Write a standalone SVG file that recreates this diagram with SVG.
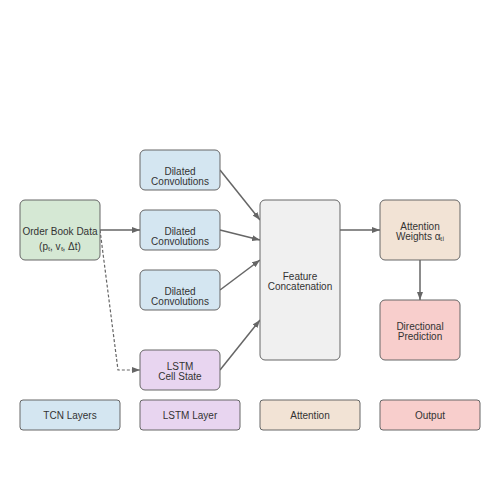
<svg xmlns="http://www.w3.org/2000/svg" width="500" height="500" viewBox="0 0 500 500">
<style>
.n{stroke:#666;stroke-width:1;}
.t{font-family:"Liberation Sans",Arial,sans-serif;font-size:10px;fill:#333;text-anchor:middle;}
.c{stroke:#666;stroke-width:1.5;fill:none;}
.d{stroke:#666;stroke-width:1.2;fill:none;stroke-dasharray:3,2;}
</style>
<defs>
<marker id="a" markerWidth="8" markerHeight="6" refX="8" refY="3" orient="auto" markerUnits="userSpaceOnUse">
<path d="M0,0 L8,3 L0,6 Z" fill="#666"/>
</marker>
</defs>
<rect width="500" height="500" fill="#fff"/>
<g id="connectors">
<line class="c" x1="100" y1="230" x2="140" y2="230" marker-end="url(#a)"/>
<polyline class="d" points="100,230 118,370 140,370" marker-end="url(#a)"/>
<line class="c" x1="220" y1="170" x2="260" y2="220" marker-end="url(#a)"/>
<line class="c" x1="220" y1="230" x2="260" y2="240" marker-end="url(#a)"/>
<line class="c" x1="220" y1="290" x2="260" y2="260" marker-end="url(#a)"/>
<line class="c" x1="220" y1="370" x2="260" y2="320" marker-end="url(#a)"/>
<line class="c" x1="340" y1="230" x2="380" y2="230" marker-end="url(#a)"/>
<line class="c" x1="420" y1="260" x2="420" y2="300" marker-end="url(#a)"/>
</g>
<g id="orderbook">
<rect class="n" x="20" y="200" width="80" height="60" rx="5" fill="#d5e8d4"/>
<text class="t" x="60" y="235">Order Book Data</text>
<text class="t" x="60" y="250">(pₜ, vₜ, Δt)</text>
</g>
<g id="dilated1">
<rect class="n" x="140" y="150" width="80" height="40" rx="5" fill="#d4e6f1"/>
<text class="t" x="180" y="175">Dilated</text>
<text class="t" x="180" y="185">Convolutions</text>
</g>
<g id="dilated2">
<rect class="n" x="140" y="210" width="80" height="40" rx="5" fill="#d4e6f1"/>
<text class="t" x="180" y="235">Dilated</text>
<text class="t" x="180" y="245">Convolutions</text>
</g>
<g id="dilated3">
<rect class="n" x="140" y="270" width="80" height="40" rx="5" fill="#d4e6f1"/>
<text class="t" x="180" y="295">Dilated</text>
<text class="t" x="180" y="305">Convolutions</text>
</g>
<g id="lstm">
<rect class="n" x="140" y="350" width="80" height="40" rx="5" fill="#e8d5f0"/>
<text class="t" x="180" y="370">LSTM</text>
<text class="t" x="180" y="380">Cell State</text>
</g>
<g id="concat">
<rect class="n" x="260" y="200" width="80" height="160" rx="5" fill="#f0f0f0"/>
<text class="t" x="300" y="280">Feature</text>
<text class="t" x="300" y="290">Concatenation</text>
</g>
<g id="attention">
<rect class="n" x="380" y="200" width="80" height="60" rx="5" fill="#f2e3d5"/>
<text class="t" x="420" y="230">Attention</text>
<text class="t" x="420" y="240">Weights αₜᵢ</text>
</g>
<g id="prediction">
<rect class="n" x="380" y="300" width="80" height="60" rx="5" fill="#f8cecc"/>
<text class="t" x="420" y="330">Directional</text>
<text class="t" x="420" y="340">Prediction</text>
</g>
<g id="legend">
<rect class="n" x="20" y="400" width="100" height="30" rx="3" fill="#d4e6f1"/>
<text class="t" x="70" y="419">TCN Layers</text>
<rect class="n" x="140" y="400" width="100" height="30" rx="3" fill="#e8d5f0"/>
<text class="t" x="190" y="419">LSTM Layer</text>
<rect class="n" x="260" y="400" width="100" height="30" rx="3" fill="#f2e3d5"/>
<text class="t" x="310" y="419">Attention</text>
<rect class="n" x="380" y="400" width="100" height="30" rx="3" fill="#f8cecc"/>
<text class="t" x="430" y="419">Output</text>
</g>
</svg>
